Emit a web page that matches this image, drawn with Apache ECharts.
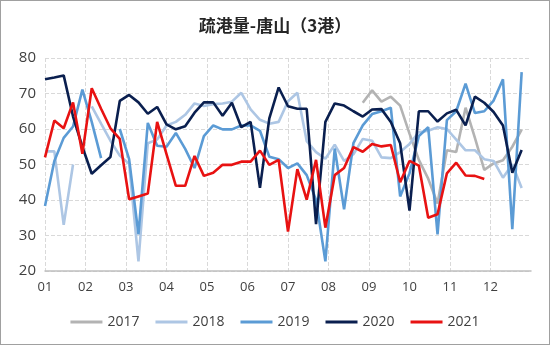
<!DOCTYPE html>
<html>
<head>
<meta charset="utf-8">
<script src="https://cdn.jsdelivr.net/npm/echarts@6/dist/echarts.min.js"></script>
<style>
html,body{margin:0;padding:0;background:#fff;}
#c{width:548px;height:343px;border:1px solid #a0a0a0;}
</style>
</head>
<body>
<div id="c"></div>
<script>
var monthLabels = ['01','02','03','04','05','06','07','08','09','10','11','12'];
var weeksPerYear = 52;
var seriesNames = ['2017','2018','2019','2020','2021'];
var s2017 = [null,null,null,null,null,null,null,null,null,null,null,null,null,null,null,null,null,null,null,null,null,null,null,null,null,null,null,null,null,null,null,null,null,null,
  67.4,70.9,67.7,69.1,66.6,58.7,51.3,46,39,54,53.5,66,57.5,48.5,50.3,51.2,55,59.8];
var s2018 = [53.7,53.7,33,50,null,66.4,61.5,56.7,52.5,50.2,22.7,56,57,61,62,64,67.2,66.5,67,67.2,67.7,70.2,65.5,62.6,61.5,62,67.8,70.2,56.6,53.5,51.6,55.6,51,52.9,57.2,56.7,52,51.8,53.5,55.8,59.1,59.5,60.5,60,57,54,54,51.5,51,46.3,50.1,43.4];
var s2019 = [38.3,51,57.5,60.7,71.1,62,51.8,null,60,51.5,30.3,61.7,55.3,55,58.9,54.4,49,58,61,59.9,59.9,61,61,59.5,52.2,51.5,49,50.3,47,40,22.7,54.5,37.4,56,61,64.2,65,66,41,47.5,58,60.5,30.3,62.5,65,72.8,64.5,65,68,74,31.8,76];
var s2020 = [74,74.5,75.1,63.5,55,47.4,49.8,52.1,67.9,69.6,67.5,64.3,66.2,61.3,59.9,60.8,64.6,67.5,67.5,63.7,67.4,60.5,62,43.4,63,71.7,66.4,65.7,65.7,33.2,62,67.2,66.6,65,63.5,65.5,65.6,62,56,37,65,65,62.1,64.4,65.4,61,69.1,67.4,64.8,61,47.7,54.1];
var s2021 = [52,62.4,60.2,67.5,53,71.5,65.7,60.2,57.2,40.2,41,41.8,62,52.9,44,44,52.4,46.8,47.7,49.9,49.9,50.8,50.8,53.9,49.9,51.3,31.1,48.7,40.1,51.3,32.2,47,49,54.9,53.6,55.8,55.1,55.5,45,51,49.7,35,36,47.5,50.5,46.9,46.8,45.9];
var colors = ['#b3b3b3','#adc6e4','#5b9bd5','#0a1f4f','#e81212'];

function toPoints(arr){
  return arr.map(function(v,i){ return [i*12/weeksPerYear, v==null ? '-' : v]; });
}
var allData = [s2017,s2018,s2019,s2020,s2021];
var series = allData.map(function(arr,k){
  return {
    name: seriesNames[k], type:'line', data: toPoints(arr),
    symbol:'none', connectNulls:false, animation:false,
    lineStyle:{width:2.6,color:colors[k]}, itemStyle:{color:colors[k]}
  };
});

var chart = echarts.init(document.getElementById('c'));
chart.setOption({
  animation:false,
  title:{text:'疏港量-唐山（3港）', left:'center', top:11,
    textStyle:{fontFamily:'Noto Sans CJK SC', fontSize:17, fontWeight:'bold', color:'#262626'}},
  grid:{left:44, right:18, top:57, bottom:73},
  legend:{bottom:10, left:'center', icon:'rect', itemWidth:32, itemHeight:3, itemGap:16,
    textStyle:{fontFamily:'Open Sans, Liberation Sans', fontSize:14, color:'#404040'},
    data:seriesNames},
  xAxis:{type:'value', min:0, max:12, interval:1,
    axisLine:{show:true, lineStyle:{color:'#bfbfbf', width:1.5}},
    axisTick:{show:false},
    splitLine:{show:true, showMaxLine:false, lineStyle:{type:'dashed', color:'#d9d9d9'}},
    axisLabel:{margin:10, fontFamily:'Open Sans, Liberation Sans', fontSize:13, color:'#404040',
      formatter:function(v){ return monthLabels[Math.round(v)] || ''; }}},
  yAxis:{type:'value', min:20, max:80, interval:10,
    axisLine:{show:false}, axisTick:{show:false},
    splitLine:{lineStyle:{type:'dashed', color:'#d9d9d9'}},
    axisLabel:{margin:9, fontFamily:'Open Sans, Liberation Sans', fontSize:15, color:'#404040'}},
  series: series
});
</script>
</body>
</html>
